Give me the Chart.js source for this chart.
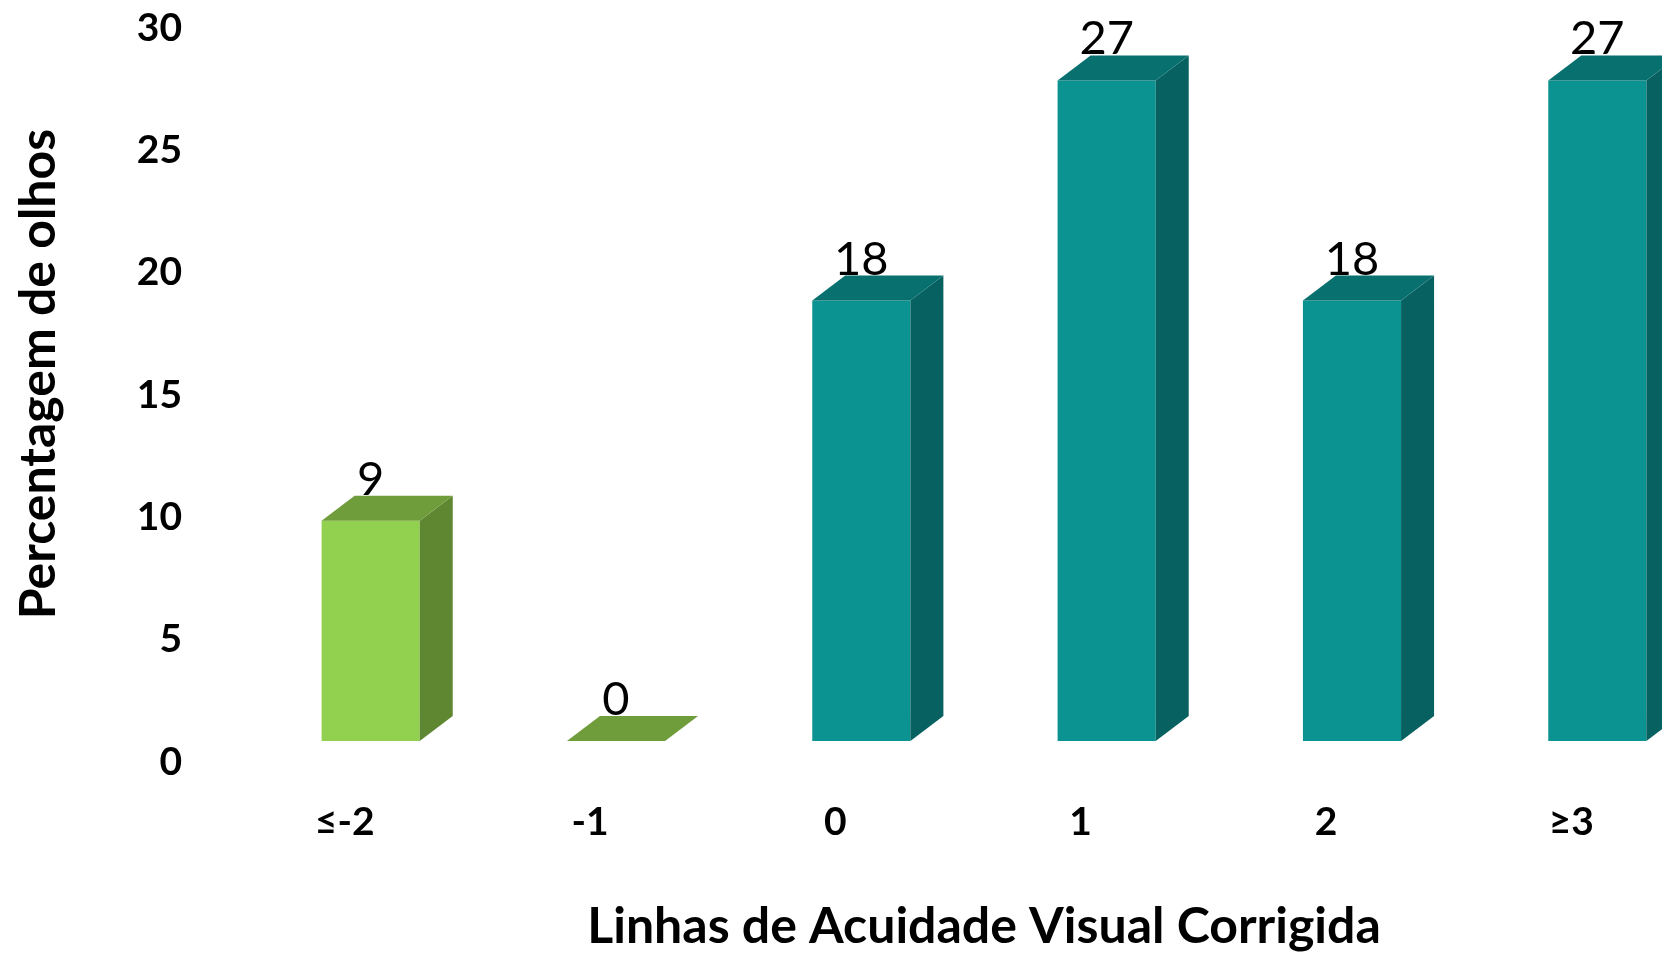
<!DOCTYPE html>
<html>
<head>
<meta charset="utf-8">
<script src="https://cdn.jsdelivr.net/npm/chart.js@4.4.1/dist/chart.umd.min.js"></script>
<style>
  html, body { margin: 0; padding: 0; background: #fff; overflow: hidden; }
  .chart-wrap { width: 1720px; height: 953px; position: relative; }
</style>
</head>
<body>
<div class="chart-wrap"><canvas id="acuityChart"></canvas></div>
<script>
// Data
const categories = ['≤-2', '-1', '0', '1', '2', '≥3'];
const percentages = [9, 0, 18, 27, 18, 27];
const yTicks = [0, 5, 10, 15, 20, 25, 30];

// Colours for front, top and side faces
const frontColors = ['#92d050', '#92d050', '#0b9391', '#0b9391', '#0b9391', '#0b9391'];
const topColors = ['#709d3c', '#709d3c', '#087170', '#087170', '#087170', '#087170'];
const sideColors = ['#5f8631', '#5f8631', '#076160', '#076160', '#076160', '#076160'];

const DX = 33;
const DY = 25;

// Draws the depth faces and value labels on top of the plain bars
const bar3d = {
    id: 'bar3d',
    afterDatasetsDraw(chart) {
        const ctx = chart.ctx;
        const meta = chart.getDatasetMeta(0);
        ctx.save();
        meta.data.forEach((bar, i) => {
            const { x, y, base, width } = bar.getProps(['x', 'y', 'base', 'width'], true);
            const left = x - width / 2;
            const right = x + width / 2;

            // side
            ctx.fillStyle = sideColors[i];
            ctx.beginPath();
            ctx.moveTo(right, y);
            ctx.lineTo(right + DX, y - DY);
            ctx.lineTo(right + DX, base - DY);
            ctx.lineTo(right, base);
            ctx.closePath();
            ctx.fill();

            // top
            ctx.fillStyle = topColors[i];
            ctx.beginPath();
            ctx.moveTo(left, y);
            ctx.lineTo(right, y);
            ctx.lineTo(right + DX, y - DY);
            ctx.lineTo(left + DX, y - DY);
            ctx.closePath();
            ctx.fill();

            // value label
            ctx.fillStyle = '#000';
            ctx.font = '47px Lato';
            ctx.textAlign = 'center';
            ctx.textBaseline = 'alphabetic';
            ctx.fillText(chart.data.datasets[0].data[i], x, y - DY - 1);
        });
        ctx.restore();
    }
};

const ctx = document.getElementById('acuityChart').getContext('2d');
const acuityChart = new Chart(ctx, {
    type: 'bar',
    data: {
        labels: categories,
        datasets: [{
            data: percentages,
            backgroundColor: frontColors,
            borderWidth: 0,
            categoryPercentage: 1,
            barPercentage: 0.4
        }]
    },
    options: {
        responsive: true,
        maintainAspectRatio: false,
        animation: false,
        layout: {
            padding: { top: 7, left: 0, right: 0, bottom: 0 }
        },
        plugins: {
            legend: { display: false },
            tooltip: { enabled: false }
        },
        scales: {
            y: {
                min: 0,
                max: 30,
                grid: { display: false, drawTicks: false },
                border: { display: false },
                afterBuildTicks: scale => {
                    scale.ticks = yTicks.map(v => ({ value: v }));
                },
                afterFit: scale => {
                    scale.width = 248;
                    scale.paddingTop = 0;
                    scale.paddingBottom = 0;
                },
                ticks: {
                    padding: 66,
                    labelOffset: 21,
                    color: '#000',
                    font: { family: 'Lato', size: 39, weight: 'bold' }
                },
                title: {
                    display: true,
                    text: 'Percentagem de olhos',
                    color: '#000',
                    padding: { top: 14, bottom: 0 },
                    font: { family: 'Lato', size: 50, weight: 'bold', lineHeight: 1 }
                }
            },
            x: {
                grid: { display: false, drawTicks: false },
                border: { display: false },
                afterFit: scale => {
                    scale.height = 212;
                    scale.paddingLeft = 0;
                    scale.paddingRight = 0;
                },
                ticks: {
                    padding: 58,
                    labelOffset: -26,
                    color: '#000',
                    font: { family: 'Lato', size: 39, weight: 'bold' }
                },
                title: {
                    display: true,
                    text: 'Linhas de Acuidade Visual Corrigida',
                    color: '#000',
                    padding: { top: 0, bottom: 1 },
                    font: { family: 'Lato', size: 50, weight: 'bold', lineHeight: 1 }
                }
            }
        }
    },
    plugins: [bar3d]
});
</script>
</body>
</html>
